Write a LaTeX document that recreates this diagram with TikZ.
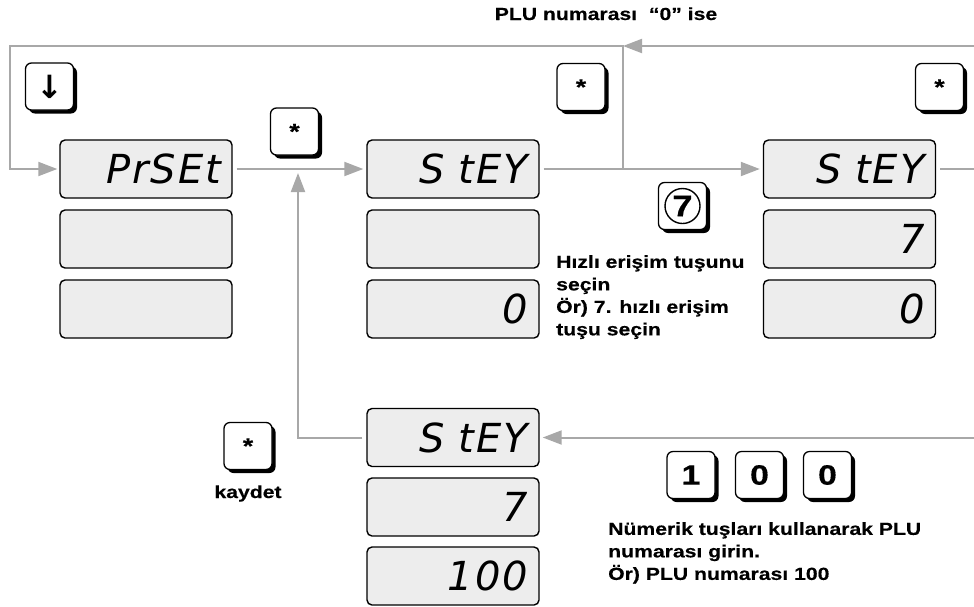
\documentclass[tikz,border=0pt]{standalone}
\usepackage{fontspec}
\setmainfont{Liberation Sans}[FakeStretch=1.21, BoldFeatures={FakeBold=0.4}]
\newfontfamily\lcdfont{DejaVu Sans}[LetterSpace=5]
\newfontfamily\symfont{DejaVu Sans}
\usetikzlibrary{arrows.meta,shadows}
\definecolor{lcdfill}{HTML}{EDEDED}
\definecolor{conncol}{HTML}{A8A8A8}
\begin{document}
\begin{tikzpicture}[x=1pt,y=-1pt,
  lcdbox/.style={draw=black, fill=lcdfill, line width=1.4pt, rounded corners=5pt,
    minimum width=172pt, minimum height=58pt, text width=150pt, align=right,
    inner xsep=11pt, inner ysep=0pt,
    font=\lcdfont\itshape\fontsize{40}{40}\selectfont},
  keybox/.style={draw=black, fill=white, line width=1.3pt, rounded corners=6pt,
    minimum width=48pt, minimum height=47pt, inner sep=0pt,
    drop shadow={shadow xshift=3.5pt, shadow yshift=-3.5pt, fill=black, opacity=1},
    font=\bfseries\fontsize{28}{28}\selectfont},
  starkey/.style={keybox, font=\bfseries\fontsize{22}{22}\selectfont},
  conn/.style={draw=conncol, line width=2pt},
  arr/.style={-{Triangle[length=19pt,width=14pt]}, shorten >=3pt},
  label/.style={font=\bfseries\fontsize{17.5}{22.5}\selectfont, inner sep=0pt},
]
\useasboundingbox (0,0) rectangle (974,606);

% LCD displays
\node[lcdbox] (p1) at (146,169) {PrSEt};
\node[lcdbox] (p2) at (146,239) {};
\node[lcdbox] (p3) at (146,309) {};
\node[lcdbox] (m1) at (453,169) {S tEY};
\node[lcdbox] (m2) at (453,239) {};
\node[lcdbox] (m3) at (453,309) {0};
\node[lcdbox] (r1) at (849.5,169) {S tEY};
\node[lcdbox] (r2) at (849.5,239) {7};
\node[lcdbox] (r3) at (849.5,309) {0};
\node[lcdbox] (b1) at (453,437.5) {S tEY};
\node[lcdbox] (b2) at (453,507) {7};
\node[lcdbox] (b3) at (453,576) {100};

% keys
\node[keybox, font=\symfont\bfseries\fontsize{32}{32}\selectfont] (kdown) at (49.5,86.5) {↓};
\node[starkey] (kstar1) at (294.5,131.5) {*};
\node[starkey] (kstar2) at (581,87) {*};
\node[starkey] (kstar3) at (939.5,87) {*};
\node[keybox] (k7) at (682.5,206) {};
\node[circle, draw=black, line width=1.4pt, minimum size=35pt, inner sep=0pt,
  font=\bfseries\fontsize{30}{30}\selectfont] (k7c) at (k7.center) {7};
\node[starkey] (kstar4) at (248,446) {*};
\node[keybox] (k1) at (691,475) {1};
\node[keybox] (k0a) at (759.5,475) {0};
\node[keybox] (k0b) at (827.5,475) {0};

% labels
\node[label, anchor=base] (tplu) at (606,20) {PLU numarası \ “0” ise};
\node[label, anchor=base] (tkay) at (248,498) {kaydet};
\node[label, anchor=north west, align=left] (thiz) at (556,255)
  {Hızlı erişim tuşunu\\seçin\\Ör) 7. hızlı erişim\\tuşu seçin};
\node[label, anchor=north west, align=left] (tnum) at (608,522)
  {Nümerik tuşları kullanarak PLU\\numarası girin.\\Ör) PLU numarası 100};

% connectors
\coordinate (tl) at (10,46);
\coordinate (bl) at (10,169);
\coordinate (tj) at (623,46);
\coordinate (mj) at (623,169);
\coordinate (tr) at (974,46);
\coordinate (rr) at (974,169);
\coordinate (br) at (974,437.5);
\coordinate (bt) at (298,437.5);
\coordinate (up) at (298,170);

\draw[conn, arr, shorten >=2pt] (mj) -- (tj) -- (tl) -- (bl) -- (p1.west);
\draw[conn, arr, shorten >=0pt] (tr) -- (tj);
\draw[conn, arr, shorten <=4pt] (p1.east) -- (m1.west);
\draw[conn, arr, shorten <=4pt] (m1.east) -- (r1.west);
\draw[conn, shorten <=4pt] (r1.east) -- (rr);
\draw[conn, arr] (br) -- (b1.east);
\draw[conn, arr, shorten <=4pt] (b1.west) -- (bt) -- (up);
\end{tikzpicture}
\end{document}
